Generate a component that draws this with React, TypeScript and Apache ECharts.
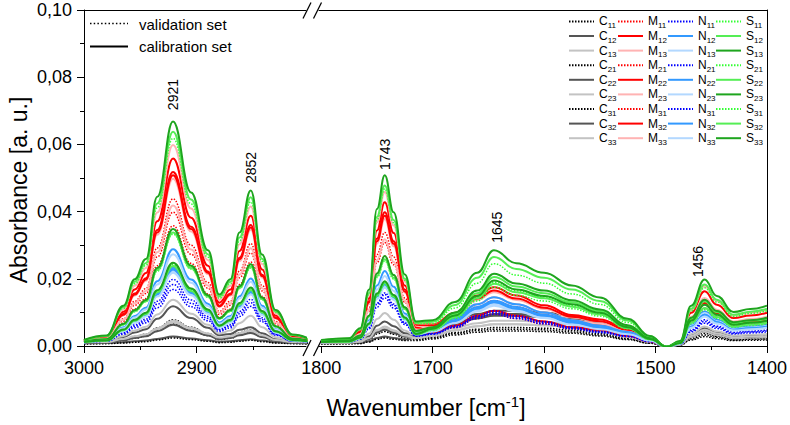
import React, { useEffect, useRef } from "react";
import * as echarts from "echarts";

const FONT = "'Liberation Sans', Arial, Helvetica, sans-serif";

// Wavenumber sample positions (cm-1)
const wavenumbersHigh = [3000, 2980, 2965, 2955, 2945, 2935, 2921, 2905, 2890, 2880, 2870, 2862, 2852, 2842, 2830, 2815, 2800];
const wavenumbersLow = [1800, 1775, 1765, 1757, 1750, 1743, 1735, 1725, 1715, 1700, 1680, 1660, 1645, 1625, 1600, 1575, 1550, 1525, 1505, 1490, 1478, 1468, 1456, 1445, 1430, 1415, 1400];

const sampleCodes = ["11", "12", "13", "21", "22", "23", "31", "32", "33"];

// Absorbance values in milli-absorbance units (x 0.001), order: 11,12,13,21,22,23,31,32,33
const cHigh = [
  [0.9, 1.0, 2.0, 2.8, 3.5, 5.4, 7.8, 5.6, 3.7, 2.3, 2.8, 4.0, 4.8, 3.2, 1.7, 1.0, 0.9],
  [1.0, 1.2, 2.7, 4.0, 5.0, 8.1, 11.8, 8.3, 5.4, 3.2, 3.6, 4.8, 5.6, 3.8, 2.0, 1.1, 1.0],
  [1.0, 1.3, 3.0, 4.6, 5.7, 9.4, 13.8, 9.6, 6.3, 3.7, 4.6, 6.8, 9.0, 5.6, 2.6, 1.3, 1.1],
  [0.7, 0.8, 1.6, 2.3, 2.9, 4.6, 6.6, 4.7, 3.1, 1.9, 2.3, 3.3, 4.0, 2.7, 1.3, 0.8, 0.7],
  [0.8, 0.9, 1.1, 1.4, 1.6, 2.1, 2.8, 2.2, 1.7, 1.3, 1.4, 1.7, 2.0, 1.6, 1.1, 0.9, 0.8],
  [0.9, 1.0, 1.9, 2.6, 3.2, 4.9, 7.0, 5.1, 3.4, 2.2, 2.6, 3.6, 4.4, 3.0, 1.6, 1.0, 0.9],
  [0.6, 0.7, 0.9, 1.1, 1.3, 1.8, 2.4, 1.9, 1.4, 1.0, 1.1, 1.4, 1.7, 1.3, 0.9, 0.7, 0.6],
  [0.9, 1.0, 1.7, 2.4, 2.9, 4.4, 6.3, 4.5, 3.1, 2.0, 2.4, 3.2, 3.9, 2.7, 1.5, 1.0, 0.9],
  [1.1, 1.2, 2.1, 2.9, 3.5, 5.3, 7.5, 5.4, 3.7, 2.5, 2.9, 3.9, 4.7, 3.2, 1.8, 1.2, 1.1],
];
const mHigh = [
  [1.4, 2.3, 8.1, 13.3, 17.1, 29.2, 43.8, 30.0, 18.9, 10.3, 13.3, 22.3, 30.5, 18.0, 7.3, 2.5, 1.7],
  [1.6, 2.7, 10.2, 16.8, 21.7, 37.1, 55.8, 38.2, 23.9, 12.9, 16.8, 28.3, 38.8, 22.8, 9.1, 3.0, 1.9],
  [1.7, 2.9, 10.8, 17.9, 23.2, 39.7, 59.8, 40.9, 25.6, 13.8, 17.9, 30.3, 41.5, 24.4, 9.7, 3.2, 2.0],
  [1.3, 2.0, 6.8, 11.0, 14.1, 23.9, 35.8, 24.6, 15.5, 8.5, 11.0, 18.3, 25.0, 14.8, 6.1, 2.2, 1.5],
  [1.6, 2.6, 9.5, 15.6, 20.2, 34.5, 51.8, 35.5, 22.2, 12.0, 15.6, 26.3, 36.0, 21.2, 8.5, 2.8, 1.8],
  [1.5, 2.5, 9.1, 15.0, 19.4, 33.1, 49.8, 34.1, 21.4, 11.6, 15.0, 25.3, 34.6, 20.4, 8.2, 2.8, 1.8],
  [1.4, 2.2, 7.4, 12.1, 15.6, 26.5, 39.8, 27.3, 17.2, 9.4, 12.1, 20.3, 27.7, 16.4, 6.7, 2.4, 1.6],
  [1.6, 2.6, 9.3, 15.3, 19.8, 33.8, 50.8, 34.8, 21.8, 11.8, 15.3, 25.8, 35.3, 20.8, 8.3, 2.8, 1.8],
  [1.4, 2.2, 7.8, 12.7, 16.4, 27.9, 41.8, 28.7, 18.0, 9.8, 12.7, 21.3, 29.1, 17.2, 7.0, 2.4, 1.6],
];
const nHigh = [
  [1.0, 1.4, 3.5, 5.4, 6.9, 11.4, 16.8, 11.7, 7.5, 4.3, 5.4, 8.8, 11.8, 7.2, 3.2, 1.4, 1.1],
  [1.2, 1.8, 5.6, 8.9, 11.4, 19.3, 28.8, 19.8, 12.6, 7.0, 8.9, 14.8, 20.1, 12.0, 5.0, 1.9, 1.4],
  [1.2, 1.7, 5.3, 8.5, 10.9, 18.3, 27.3, 18.8, 11.9, 6.6, 8.5, 14.1, 19.1, 11.4, 4.8, 1.9, 1.3],
  [1.1, 1.5, 4.0, 6.3, 8.0, 13.3, 19.8, 13.7, 8.8, 5.0, 6.3, 10.3, 13.9, 8.4, 3.7, 1.6, 1.2],
  [1.1, 1.6, 4.6, 7.3, 9.4, 15.7, 23.3, 16.1, 10.3, 5.8, 7.3, 12.1, 16.3, 9.8, 4.2, 1.7, 1.3],
  [1.1, 1.6, 4.5, 7.0, 9.0, 15.0, 22.3, 15.4, 9.8, 5.5, 7.0, 11.6, 15.6, 9.4, 4.0, 1.7, 1.2],
  [1.1, 1.4, 3.8, 5.9, 7.5, 12.4, 18.3, 12.7, 8.2, 4.7, 5.9, 9.6, 12.9, 7.8, 3.4, 1.5, 1.2],
  [1.1, 1.6, 4.5, 7.2, 9.2, 15.3, 22.8, 15.8, 10.0, 5.6, 7.2, 11.8, 16.0, 9.6, 4.1, 1.7, 1.2],
  [1.1, 1.5, 4.4, 6.9, 8.8, 14.7, 21.8, 15.1, 9.6, 5.4, 6.9, 11.3, 15.3, 9.2, 4.0, 1.6, 1.2],
];
const sHigh = [
  [1.7, 2.9, 11.2, 18.5, 24.0, 41.1, 61.8, 42.3, 26.4, 14.2, 18.5, 31.3, 42.9, 25.2, 10.0, 3.2, 2.0],
  [1.7, 3.0, 11.5, 19.1, 24.7, 42.4, 63.8, 43.6, 27.3, 14.7, 19.1, 32.3, 44.3, 26.0, 10.3, 3.3, 2.1],
  [1.8, 3.1, 12.0, 19.9, 25.9, 44.4, 66.8, 45.7, 28.5, 15.3, 19.9, 33.8, 46.3, 27.2, 10.7, 3.4, 2.1],
  [1.3, 1.9, 6.3, 10.2, 13.2, 22.3, 33.3, 22.9, 14.5, 8.0, 10.2, 17.1, 23.2, 13.8, 5.7, 2.1, 1.5],
  [1.3, 2.0, 6.4, 10.4, 13.3, 22.6, 33.8, 23.2, 14.7, 8.1, 10.4, 17.3, 23.6, 14.0, 5.8, 2.1, 1.5],
  [1.3, 2.0, 6.6, 10.7, 13.7, 23.2, 34.8, 23.9, 15.1, 8.3, 10.7, 17.8, 24.3, 14.4, 5.9, 2.2, 1.5],
  [1.2, 1.6, 4.8, 7.6, 9.7, 16.3, 24.3, 16.8, 10.7, 6.0, 7.6, 12.6, 17.0, 10.2, 4.3, 1.7, 1.3],
  [1.1, 1.6, 4.7, 7.5, 9.5, 16.0, 23.8, 16.4, 10.5, 5.9, 7.5, 12.3, 16.7, 10.0, 4.3, 1.7, 1.3],
  [1.2, 1.6, 4.9, 7.8, 9.9, 16.6, 24.8, 17.1, 10.9, 6.1, 7.8, 12.8, 17.4, 10.4, 4.4, 1.8, 1.3],
];

const cLow = [
  [0.9, 0.9, 1.2, 2.2, 4.4, 5.3, 4.3, 2.8, 2.1, 2.6, 4.0, 5.0, 5.5, 5.5, 5.3, 4.7, 3.7, 2.3, 1.0, -0.2, 0.4, 2.4, 3.8, 2.9, 2.1, 2.2, 2.4],
  [0.9, 1.0, 1.4, 2.9, 6.0, 7.3, 5.9, 3.8, 3.3, 4.6, 7.5, 9.5, 10.5, 10.5, 10.0, 8.9, 6.9, 4.3, 1.7, -0.2, 0.5, 3.3, 5.3, 4.1, 2.8, 3.1, 3.3],
  [1.0, 1.1, 1.6, 3.7, 8.0, 9.8, 7.8, 4.6, 2.7, 3.1, 4.7, 5.9, 6.5, 6.5, 6.2, 5.5, 4.3, 2.7, 1.1, -0.2, 0.5, 3.6, 5.8, 4.4, 3.1, 3.3, 3.6],
  [0.7, 0.8, 1.1, 1.9, 3.6, 4.3, 3.5, 2.3, 1.9, 2.4, 3.7, 4.6, 5.0, 5.0, 4.8, 4.2, 3.3, 2.1, 0.9, -0.2, 0.3, 2.1, 3.3, 2.6, 1.8, 2.0, 2.1],
  [0.8, 0.9, 0.9, 1.4, 2.4, 2.8, 2.4, 1.9, 2.5, 3.9, 6.5, 8.2, 9.0, 9.0, 8.6, 7.6, 5.9, 3.7, 1.5, -0.2, 0.4, 2.7, 4.3, 3.3, 2.3, 2.5, 2.7],
  [0.9, 0.9, 1.2, 2.2, 4.4, 5.3, 4.3, 2.8, 2.3, 3.0, 4.7, 5.9, 6.5, 6.5, 6.2, 5.5, 4.3, 2.7, 1.1, -0.2, 0.4, 2.7, 4.3, 3.3, 2.3, 2.5, 2.7],
  [0.6, 0.6, 0.7, 1.2, 2.0, 2.4, 2.0, 1.6, 1.6, 2.1, 3.3, 4.1, 4.5, 4.5, 4.3, 3.8, 3.0, 1.9, 0.8, -0.2, 0.3, 1.8, 2.8, 2.2, 1.6, 1.7, 1.8],
  [0.9, 0.9, 1.2, 2.1, 4.0, 4.8, 3.9, 2.8, 2.8, 4.2, 6.8, 8.6, 9.5, 9.5, 9.1, 8.1, 6.3, 3.9, 1.6, -0.2, 0.4, 3.0, 4.8, 3.7, 2.6, 2.8, 3.0],
  [1.0, 1.0, 1.3, 2.4, 4.8, 5.8, 4.7, 3.1, 2.5, 3.4, 5.4, 6.8, 7.5, 7.5, 7.2, 6.4, 5.0, 3.1, 1.3, -0.2, 0.4, 3.0, 4.8, 3.7, 2.6, 2.8, 3.0],
];
const mLow = [
  [1.5, 1.8, 3.8, 11.4, 27.2, 33.8, 26.5, 14.3, 5.2, 5.1, 7.7, 11.6, 13.5, 11.6, 9.3, 7.2, 6.1, 3.9, 1.8, -0.2, 0.9, 7.5, 12.3, 9.3, 6.3, 6.9, 7.5],
  [1.6, 2.1, 4.6, 14.2, 34.4, 42.8, 33.6, 18.0, 6.5, 6.4, 9.9, 15.0, 17.5, 15.0, 12.1, 9.2, 7.9, 5.1, 2.2, -0.2, 1.2, 9.9, 16.3, 12.3, 8.3, 9.1, 9.9],
  [1.7, 2.2, 4.9, 15.2, 36.8, 45.8, 35.9, 19.2, 6.7, 6.1, 9.0, 13.7, 16.0, 13.7, 11.0, 8.5, 7.2, 4.6, 2.1, -0.2, 1.3, 10.8, 17.8, 13.4, 9.1, 9.9, 10.8],
  [1.3, 1.6, 3.1, 9.1, 21.6, 26.8, 21.1, 11.4, 4.2, 4.0, 6.0, 9.0, 10.5, 9.0, 7.3, 5.6, 4.8, 3.1, 1.4, -0.2, 0.8, 6.3, 10.3, 7.8, 5.3, 5.8, 6.3],
  [1.6, 2.0, 4.3, 13.3, 32.0, 39.8, 31.2, 16.8, 6.1, 6.1, 9.3, 14.1, 16.5, 14.1, 11.4, 8.7, 7.4, 4.8, 2.1, -0.2, 1.0, 8.4, 13.8, 10.4, 7.1, 7.7, 8.4],
  [1.5, 1.9, 4.1, 12.6, 30.4, 37.8, 29.7, 15.9, 5.7, 5.4, 8.2, 12.4, 14.5, 12.4, 10.0, 7.7, 6.6, 4.2, 1.9, -0.2, 1.1, 8.7, 14.3, 10.8, 7.3, 8.0, 8.7],
  [1.4, 1.7, 3.5, 10.4, 24.8, 30.8, 24.2, 13.0, 4.5, 3.8, 5.5, 8.2, 9.5, 8.2, 6.6, 5.1, 4.4, 2.8, 1.3, -0.2, 0.7, 5.7, 9.3, 7.1, 4.8, 5.3, 5.7],
  [1.6, 1.9, 4.2, 13.0, 31.2, 38.8, 30.4, 16.2, 5.4, 4.3, 6.0, 9.0, 10.5, 9.0, 7.3, 5.6, 4.8, 3.1, 1.4, -0.2, 1.0, 7.8, 12.8, 9.7, 6.6, 7.2, 7.8],
  [1.4, 1.7, 3.6, 10.7, 25.6, 31.8, 25.0, 13.5, 4.9, 4.7, 7.1, 10.7, 12.5, 10.7, 8.7, 6.6, 5.7, 3.7, 1.6, -0.2, 0.9, 6.9, 11.3, 8.6, 5.8, 6.4, 6.9],
];
const nLow = [
  [1.1, 1.2, 2.1, 5.4, 12.4, 15.3, 12.1, 6.8, 3.0, 3.6, 5.7, 8.6, 10.0, 8.6, 7.0, 5.3, 4.2, 3.0, 1.3, -0.2, 0.6, 4.5, 7.3, 5.6, 3.8, 4.2, 4.5],
  [1.2, 1.5, 2.7, 7.7, 18.0, 22.3, 17.6, 9.7, 4.2, 5.1, 8.2, 12.4, 14.5, 12.4, 10.0, 7.7, 6.0, 4.2, 1.9, -0.2, 0.8, 6.3, 10.3, 7.8, 5.3, 5.8, 6.3],
  [1.2, 1.4, 2.6, 7.2, 16.8, 20.8, 16.4, 9.1, 3.9, 4.7, 7.4, 11.1, 13.0, 11.1, 9.0, 6.9, 5.4, 3.8, 1.7, -0.2, 0.8, 6.0, 9.8, 7.4, 5.1, 5.5, 6.0],
  [1.1, 1.3, 2.2, 5.6, 12.8, 15.8, 12.5, 7.0, 3.1, 3.8, 6.0, 9.0, 10.5, 9.0, 7.3, 5.6, 4.4, 3.1, 1.4, -0.2, 0.6, 4.8, 7.8, 5.9, 4.1, 4.4, 4.8],
  [1.2, 1.3, 2.4, 6.6, 15.2, 18.8, 14.8, 8.3, 3.7, 4.8, 7.7, 11.6, 13.5, 11.6, 9.3, 7.2, 5.6, 3.9, 1.8, -0.2, 0.7, 5.7, 9.3, 7.1, 4.8, 5.3, 5.7],
  [1.1, 1.3, 2.3, 6.2, 14.4, 17.8, 14.1, 7.9, 3.5, 4.4, 7.1, 10.7, 12.5, 10.7, 8.7, 6.6, 5.2, 3.7, 1.6, -0.2, 0.7, 5.4, 8.8, 6.7, 4.6, 5.0, 5.4],
  [1.1, 1.2, 2.0, 5.1, 11.6, 14.3, 11.3, 6.4, 2.9, 3.5, 5.5, 8.2, 9.5, 8.2, 6.6, 5.1, 4.0, 2.8, 1.3, -0.2, 0.6, 4.2, 6.8, 5.2, 3.6, 3.9, 4.2],
  [1.2, 1.3, 2.4, 6.4, 14.8, 18.3, 14.5, 8.1, 3.6, 4.6, 7.4, 11.1, 13.0, 11.1, 9.0, 6.9, 5.4, 3.8, 1.7, -0.2, 0.7, 5.7, 9.3, 7.1, 4.8, 5.3, 5.7],
  [1.1, 1.3, 2.3, 6.1, 14.0, 17.3, 13.7, 7.7, 3.4, 4.3, 6.8, 10.3, 12.0, 10.3, 8.3, 6.4, 5.0, 3.5, 1.6, -0.2, 0.7, 5.4, 8.8, 6.7, 4.6, 5.0, 5.4],
];
const sLow = [
  [1.7, 2.2, 4.9, 15.5, 37.6, 46.8, 36.7, 19.6, 6.6, 6.7, 11.3, 18.7, 24.5, 21.1, 18.7, 15.5, 12.4, 7.0, 2.6, -0.2, 1.3, 10.5, 17.3, 13.1, 8.8, 9.7, 10.5],
  [1.7, 2.2, 5.0, 15.8, 38.4, 47.8, 37.5, 20.0, 6.9, 7.2, 12.2, 20.3, 26.5, 22.9, 20.3, 16.8, 13.4, 7.6, 2.8, -0.2, 1.4, 11.1, 18.3, 13.8, 9.3, 10.2, 11.1],
  [1.8, 2.3, 5.3, 16.8, 40.8, 50.8, 39.8, 21.3, 7.3, 7.7, 13.1, 21.8, 28.5, 24.6, 21.8, 18.0, 14.4, 8.1, 3.0, -0.2, 1.5, 12.0, 19.8, 14.9, 10.1, 11.0, 12.0],
  [1.3, 1.5, 3.0, 8.6, 20.4, 25.3, 19.9, 10.9, 4.2, 5.1, 8.8, 14.6, 19.0, 16.4, 14.6, 12.1, 9.7, 5.5, 2.1, -0.2, 0.9, 7.5, 12.3, 9.3, 6.3, 6.9, 7.5],
  [1.3, 1.6, 3.1, 8.8, 20.8, 25.8, 20.3, 11.1, 4.3, 5.4, 9.5, 15.7, 20.5, 17.7, 15.7, 13.0, 10.4, 5.9, 2.2, -0.2, 1.0, 8.1, 13.3, 10.1, 6.8, 7.5, 8.1],
  [1.3, 1.6, 3.1, 9.1, 21.6, 26.8, 21.1, 11.5, 4.5, 5.6, 10.0, 16.5, 21.5, 18.6, 16.5, 13.6, 10.9, 6.2, 2.3, -0.2, 1.1, 8.4, 13.8, 10.4, 7.1, 7.7, 8.4],
  [1.2, 1.3, 2.4, 6.4, 14.8, 18.3, 14.5, 8.0, 3.4, 4.6, 8.2, 13.4, 17.5, 15.1, 13.4, 11.1, 8.9, 5.1, 1.9, -0.2, 0.8, 6.6, 10.8, 8.2, 5.6, 6.1, 6.6],
  [1.2, 1.3, 2.4, 6.6, 15.2, 18.8, 14.8, 8.3, 3.5, 4.8, 8.6, 14.2, 18.5, 16.0, 14.2, 11.7, 9.4, 5.3, 2.0, -0.2, 0.9, 6.9, 11.3, 8.6, 5.8, 6.4, 6.9],
  [1.2, 1.4, 2.5, 6.7, 15.6, 19.3, 15.2, 8.5, 3.6, 5.1, 9.1, 14.9, 19.5, 16.8, 14.9, 12.4, 9.9, 5.6, 2.1, -0.2, 0.9, 7.5, 12.3, 9.3, 6.3, 6.9, 7.5],
];

// Axis ticks
const highMajorTicks = [3000, 2900];
const highMinorTicks = [2950, 2850];
const lowMajorTicks = [1800, 1700, 1600, 1500, 1400];
const lowMinorTicks = [1750, 1650, 1550, 1450];

// Peak annotations (text, wavenumber position, absorbance in mAU where the label starts)
const annotationTexts = ["2921", "2852", "1743", "1645", "1456"];
const annotationWavenumbers = [2921, 2852, 1743, 1642, 1462];
const annotationHeights = [70.2, 48.5, 52.4, 30.7, 20.5];

const groups = [
  { letter: "C", high: cHigh, low: cLow, colors: ["#000000", "#555555", "#c3c3c3"] },
  { letter: "M", high: mHigh, low: mLow, colors: ["#ff0000", "#ff0000", "#ffb3b3"] },
  { letter: "N", high: nHigh, low: nLow, colors: ["#0000ff", "#3399ff", "#b3d8ff"] },
  { letter: "S", high: sHigh, low: sLow, colors: ["#33ff33", "#55ee55", "#1ea51e"] },
];
const legendLefts = [568, 617, 667, 715];

export default function App() {
  const ref = useRef<HTMLDivElement>(null);

  useEffect(() => {
    if (!ref.current) return;
    const chart = echarts.init(ref.current, undefined, { renderer: "svg" });

    const series: any[] = [];
    groups.forEach((g) => {
      sampleCodes.forEach((code, i) => {
        const name = g.letter + code;
        const kind = i % 3;
        const color = g.colors[kind];
        const dotted = kind === 0;
        const lineStyle = {
          color,
          width: dotted ? 1.5 : 2,
          type: dotted ? [1.5, 1.5] : "solid",
        };
        const common = {
          type: "line",
          name,
          symbol: "none",
          smooth: 0.45,
          smoothMonotone: "x",
          lineStyle,
          itemStyle: { color },
          silent: true,
          emphasis: { disabled: true },
          clip: true,
        };
        series.push({
          ...common,
          xAxisIndex: 0,
          yAxisIndex: 0,
          data: wavenumbersHigh.map((w, k) => [w, g.high[i][k]]),
        });
        series.push({
          ...common,
          xAxisIndex: 3,
          yAxisIndex: 1,
          data: wavenumbersLow.map((w, k) => [w, g.low[i][k]]),
        });
      });
    });

    const black = { color: "#000", width: 1 };
    const labelStyle = { fontSize: 18, color: "#000", fontFamily: FONT };
    const plain = (v: number) => String(v);

    const option: any = {
      animation: false,
      backgroundColor: "#fff",
      textStyle: { fontFamily: FONT },
      grid: [
        { left: 84, top: 10, width: 222, height: 336, containLabel: false },
        { left: 319, top: 10, width: 449, height: 336, containLabel: false },
      ],
      xAxis: [
        {
          gridIndex: 0, type: "value", min: 2803, max: 3000, inverse: true, position: "bottom",
          axisLine: { show: true, onZero: false, lineStyle: black },
          axisTick: { show: true, length: 7, customValues: highMajorTicks, lineStyle: black },
          axisLabel: { show: true, customValues: highMajorTicks, margin: 13, formatter: plain, ...labelStyle },
          splitLine: { show: false },
        },
        {
          gridIndex: 0, type: "value", min: 2803, max: 3000, inverse: true, position: "bottom",
          axisLine: { show: false, onZero: false },
          axisTick: { show: true, length: 4, customValues: highMinorTicks, lineStyle: black },
          axisLabel: { show: false },
          splitLine: { show: false },
        },
        {
          gridIndex: 0, type: "value", min: 2803, max: 3000, inverse: true, position: "top",
          axisLine: { show: true, onZero: false, lineStyle: black },
          axisTick: { show: false }, axisLabel: { show: false }, splitLine: { show: false },
        },
        {
          gridIndex: 1, type: "value", min: 1400, max: 1802, inverse: true, position: "bottom",
          axisLine: { show: true, onZero: false, lineStyle: black },
          axisTick: { show: true, length: 7, customValues: lowMajorTicks, lineStyle: black },
          axisLabel: { show: true, customValues: lowMajorTicks, margin: 13, formatter: plain, ...labelStyle },
          splitLine: { show: false },
        },
        {
          gridIndex: 1, type: "value", min: 1400, max: 1802, inverse: true, position: "bottom",
          axisLine: { show: false, onZero: false },
          axisTick: { show: true, length: 4, customValues: lowMinorTicks, lineStyle: black },
          axisLabel: { show: false },
          splitLine: { show: false },
        },
        {
          gridIndex: 1, type: "value", min: 1400, max: 1802, inverse: true, position: "top",
          axisLine: { show: true, onZero: false, lineStyle: black },
          axisTick: { show: false }, axisLabel: { show: false }, splitLine: { show: false },
        },
      ],
      yAxis: [
        {
          gridIndex: 0, type: "value", min: 0, max: 100, interval: 20, position: "left",
          axisLine: { show: true, onZero: false, lineStyle: black },
          axisTick: { show: true, length: 7, lineStyle: black },
          minorTick: { show: true, splitNumber: 2, length: 4, lineStyle: black },
          axisLabel: {
            show: true, margin: 12, ...labelStyle,
            formatter: (v: number) => (v / 1000).toFixed(2).replace(".", ","),
          },
          splitLine: { show: false },
        },
        {
          gridIndex: 1, type: "value", min: 0, max: 100, position: "right",
          axisLine: { show: true, onZero: false, lineStyle: black },
          axisTick: { show: false }, axisLabel: { show: false }, splitLine: { show: false },
        },
      ],
      legend: groups.map((g, gi) => ({
        orient: "vertical",
        left: legendLefts[gi],
        top: 15,
        padding: 0,
        itemGap: 0.2,
        itemWidth: 25,
        itemHeight: 16,
        selectedMode: false,
        itemStyle: { opacity: 0, borderWidth: 0 },
        data: sampleCodes.map((c) => g.letter + c),
        formatter: (n: string) => `{a|${n.charAt(0)}}{s|${n.slice(1)}}`,
        textStyle: {
          fontFamily: FONT,
          color: "#000",
          rich: {
            a: { fontSize: 12, lineHeight: 16, color: "#000", fontFamily: FONT },
            s: { fontSize: 8, lineHeight: 8, verticalAlign: "bottom", color: "#000", fontFamily: FONT },
          },
        },
      })),
      series,
    };

    chart.setOption(option);

    const staticGraphics: any[] = [
      // y-axis title
      {
        type: "text", x: 19, y: 190, rotation: Math.PI / 2, silent: true,
        style: { text: "Absorbance [a. u.]", fontSize: 23, fontFamily: FONT, fill: "#000", align: "center", verticalAlign: "middle" },
      },
      // x-axis title
      {
        type: "text", x: 426, y: 408, silent: true,
        style: {
          text: "Wavenumber [cm{sup|-1}]", fontSize: 23, lineHeight: 28, fontFamily: FONT, fill: "#000",
          align: "center", verticalAlign: "middle",
          rich: { sup: { fontSize: 15, lineHeight: 19, verticalAlign: "top", fontFamily: FONT, fill: "#000" } },
        },
      },
      // validation / calibration legend
      { type: "line", silent: true, shape: { x1: 90, y1: 23.5, x2: 128, y2: 23.5 }, style: { stroke: "#000", lineWidth: 1.5, lineDash: [1.5, 2.2] } },
      { type: "text", x: 139, y: 24, silent: true, style: { text: "validation set", fontSize: 15, fontFamily: FONT, fill: "#000", align: "left", verticalAlign: "middle" } },
      { type: "line", silent: true, shape: { x1: 90, y1: 46.5, x2: 128, y2: 46.5 }, style: { stroke: "#000", lineWidth: 2 } },
      { type: "text", x: 139, y: 46, silent: true, style: { text: "calibration set", fontSize: 15, fontFamily: FONT, fill: "#000", align: "left", verticalAlign: "middle" } },
      // axis break marks
      { type: "line", silent: true, shape: { x1: 303, y1: 18.5, x2: 311, y2: 2.5 }, style: { stroke: "#000", lineWidth: 1.3 } },
      { type: "line", silent: true, shape: { x1: 313.5, y1: 18.5, x2: 321.5, y2: 2.5 }, style: { stroke: "#000", lineWidth: 1.3 } },
      { type: "line", silent: true, shape: { x1: 303, y1: 356, x2: 311, y2: 340 }, style: { stroke: "#000", lineWidth: 1.3 } },
      { type: "line", silent: true, shape: { x1: 313.5, y1: 356, x2: 321.5, y2: 340 }, style: { stroke: "#000", lineWidth: 1.3 } },
    ];

    const annGraphics = annotationTexts.map((t, i) => {
      const w = annotationWavenumbers[i];
      const finder = w > 2000 ? { xAxisIndex: 0, yAxisIndex: 0 } : { xAxisIndex: 3, yAxisIndex: 1 };
      const p = chart.convertToPixel(finder as any, [w, annotationHeights[i]]) as number[];
      return {
        type: "text", x: p[0], y: p[1], rotation: Math.PI / 2, silent: true,
        style: { text: t, fontSize: 14, fontFamily: FONT, fill: "#000", align: "left", verticalAlign: "middle" },
      };
    });

    chart.setOption({ graphic: [...staticGraphics, ...annGraphics] });

    return () => chart.dispose();
  }, []);

  return (
    <div
      ref={ref}
      style={{ position: "fixed", left: 0, top: 0, width: 790, height: 425, background: "#fff" }}
    />
  );
}
